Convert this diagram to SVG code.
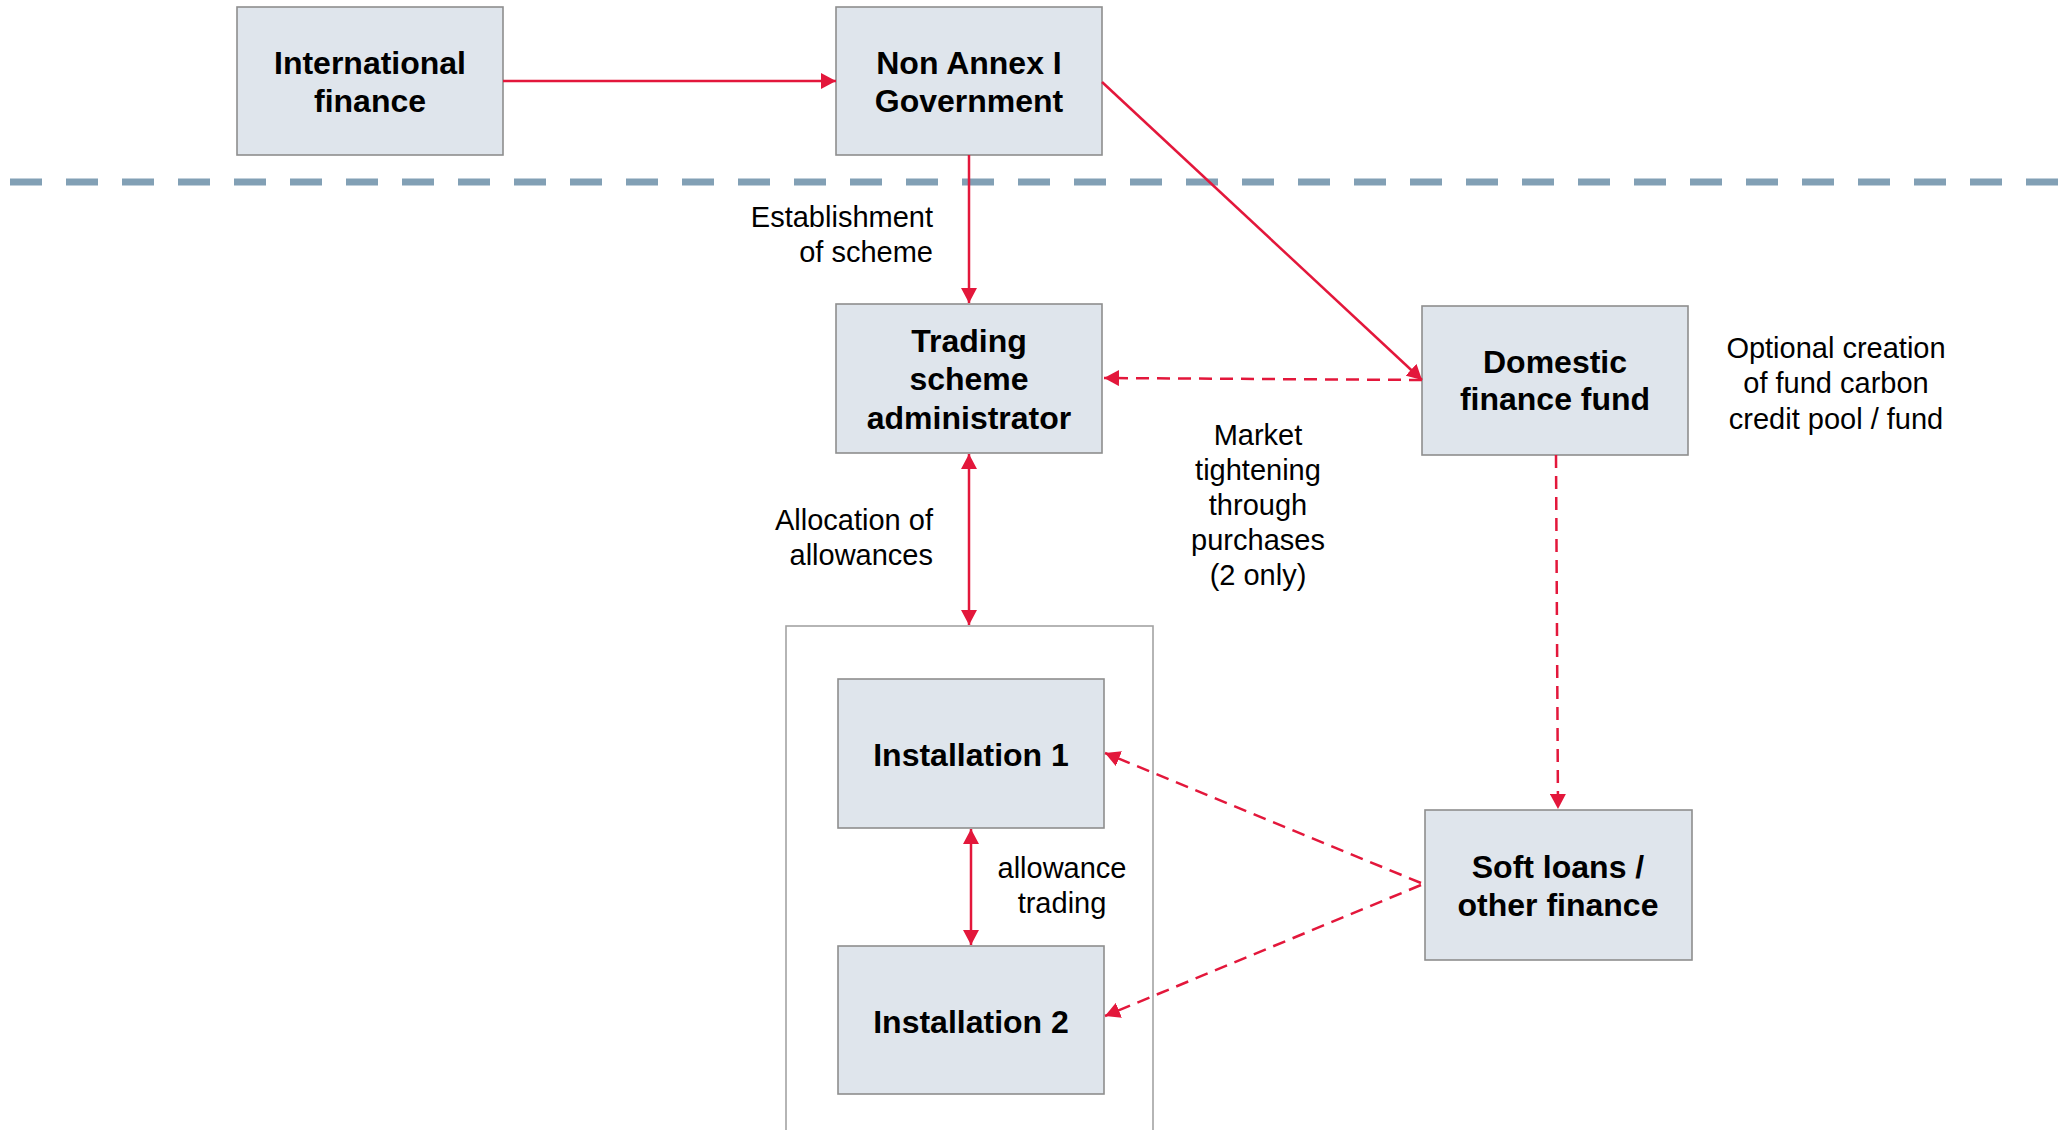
<svg xmlns="http://www.w3.org/2000/svg" width="2065" height="1130" viewBox="0 0 2065 1130">
<style>
.box{fill:#dfe5ec;stroke:#8e8e8e;stroke-width:1.6}
.frame{fill:#ffffff;stroke:#a3a3a3;stroke-width:1.6}
.bt{font-family:"Liberation Sans",Arial,sans-serif;font-weight:bold;font-size:32px;fill:#000;text-anchor:middle}
.rt{font-family:"Liberation Sans",Arial,sans-serif;font-size:29px;fill:#000}
.c{stroke:#e3173b;stroke-width:2.5;fill:none}
.d{stroke-dasharray:13 8}
.sep{stroke:#82a0b5;stroke-width:7;stroke-dasharray:32 24}
</style>
<defs>
<marker id="ah" markerUnits="userSpaceOnUse" markerWidth="16" markerHeight="16" refX="15" refY="8" orient="auto-start-reverse" viewBox="0 0 16 16">
<path d="M0,0 L15,8 L0,16 z" fill="#e3173b"/>
</marker>
</defs>
<rect width="2065" height="1130" fill="#ffffff"/>
<line class="sep" x1="10" y1="182" x2="2065" y2="182"/>
<g id="container"><rect class="frame" x="786" y="626" width="367" height="520"/></g>
<g id="international-finance"><rect class="box" x="237" y="7" width="266" height="148"/><text class="bt" x="370" y="74">International</text><text class="bt" x="370" y="112">finance</text></g>
<g id="non-annex-government"><rect class="box" x="836" y="7" width="266" height="148"/><text class="bt" x="969" y="74">Non Annex I</text><text class="bt" x="969" y="112">Government</text></g>
<g id="trading-scheme-administrator"><rect class="box" x="836" y="304" width="266" height="149"/><text class="bt" x="969" y="352">Trading</text><text class="bt" x="969" y="390">scheme</text><text class="bt" x="969" y="429">administrator</text></g>
<g id="domestic-finance-fund"><rect class="box" x="1422" y="306" width="266" height="149"/><text class="bt" x="1555" y="373">Domestic</text><text class="bt" x="1555" y="410">finance fund</text></g>
<g id="installation-1"><rect class="box" x="838" y="679" width="266" height="149"/><text class="bt" x="971" y="766">Installation 1</text></g>
<g id="installation-2"><rect class="box" x="838" y="946" width="266" height="148"/><text class="bt" x="971" y="1033">Installation 2</text></g>
<g id="soft-loans"><rect class="box" x="1425" y="810" width="267" height="150"/><text class="bt" x="1558" y="878">Soft loans /</text><text class="bt" x="1558" y="916">other finance</text></g>
<g id="labels">
<text class="rt" x="933" y="227" text-anchor="end">Establishment</text>
<text class="rt" x="933" y="262" text-anchor="end">of scheme</text>
<text class="rt" x="933" y="530" text-anchor="end">Allocation of</text>
<text class="rt" x="933" y="565" text-anchor="end">allowances</text>
<text class="rt" x="1258" y="445" text-anchor="middle">Market</text>
<text class="rt" x="1258" y="480" text-anchor="middle">tightening</text>
<text class="rt" x="1258" y="515" text-anchor="middle">through</text>
<text class="rt" x="1258" y="550" text-anchor="middle">purchases</text>
<text class="rt" x="1258" y="585" text-anchor="middle">(2 only)</text>
<text class="rt" x="1836" y="358" text-anchor="middle">Optional creation</text>
<text class="rt" x="1836" y="393" text-anchor="middle">of fund carbon</text>
<text class="rt" x="1836" y="429" text-anchor="middle">credit pool / fund</text>
<text class="rt" x="1062" y="878" text-anchor="middle">allowance</text>
<text class="rt" x="1062" y="913" text-anchor="middle">trading</text>
</g>
<g id="connectors">
<line class="c" x1="503" y1="81" x2="836" y2="81" marker-end="url(#ah)"/>
<line class="c" x1="969" y1="155" x2="969" y2="303" marker-end="url(#ah)"/>
<line class="c" x1="1102" y1="82" x2="1422" y2="380" marker-end="url(#ah)"/>
<line class="c d" x1="1422" y1="380" x2="1104" y2="378" marker-end="url(#ah)"/>
<line class="c" x1="969" y1="454" x2="969" y2="625" marker-start="url(#ah)" marker-end="url(#ah)"/>
<line class="c" x1="971" y1="829" x2="971" y2="945" marker-start="url(#ah)" marker-end="url(#ah)"/>
<line class="c d" x1="1556" y1="455" x2="1558" y2="809" marker-end="url(#ah)"/>
<line class="c d" x1="1421" y1="883" x2="1105" y2="753" marker-end="url(#ah)"/>
<line class="c d" x1="1421" y1="885" x2="1105" y2="1016" marker-end="url(#ah)"/>
</g>
</svg>
